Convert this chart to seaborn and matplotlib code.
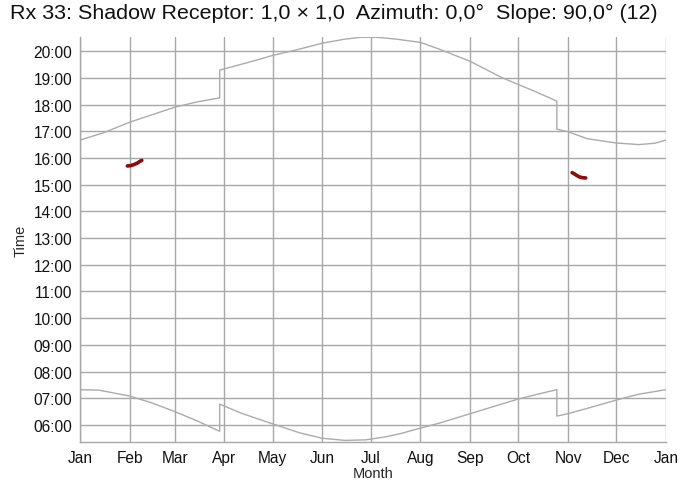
import matplotlib
matplotlib.use("Agg")
import matplotlib.pyplot as plt
from matplotlib.ticker import FixedLocator, FuncFormatter, MultipleLocator
import seaborn as sns

# month boundaries (day of year) and labels
month_starts = [0, 31, 59, 90, 120, 151, 181, 212, 243, 273, 304, 334, 365]
month_labels = ["Jan", "Feb", "Mar", "Apr", "May", "Jun", "Jul",
                "Aug", "Sep", "Oct", "Nov", "Dec", "Jan"]

# sunset curve (day of year, hour)
sunset_day = [0, 15, 31, 45, 59, 73, 87, 87, 100, 112, 120, 135, 151, 165, 175,
              185, 197, 212, 224, 243, 262, 273, 285, 297, 297, 304, 316, 334,
              348, 358, 365]
sunset_hour = [16.67, 16.95, 17.34, 17.62, 17.90, 18.10, 18.25, 19.29, 19.50,
               19.70, 19.84, 20.05, 20.30, 20.45, 20.52, 20.52, 20.45, 20.33,
               20.07, 19.62, 19.03, 18.75, 18.45, 18.13, 17.08, 16.98, 16.72,
               16.56, 16.50, 16.55, 16.67]

# sunrise curve
sunrise_day = [0, 12, 31, 45, 59, 73, 87, 87, 100, 112, 124, 137, 151, 165, 178,
               190, 200, 212, 224, 243, 262, 273, 285, 297, 297, 304, 316, 334,
               348, 365]
sunrise_hour = [7.32, 7.30, 7.08, 6.82, 6.50, 6.15, 5.76, 6.78, 6.45, 6.20, 5.96,
                5.70, 5.50, 5.42, 5.44, 5.55, 5.68, 5.88, 6.07, 6.42, 6.77, 6.97,
                7.15, 7.32, 6.33, 6.42, 6.62, 6.93, 7.15, 7.32]

# shadow periods
shadow_feb_day = [29.5, 31.5, 33.5, 35.5, 37.0, 38.5]
shadow_feb_hour = [15.70, 15.71, 15.75, 15.80, 15.86, 15.91]
shadow_nov_day = [306.5, 308.0, 309.5, 311.0, 313.0, 315.0]
shadow_nov_hour = [15.45, 15.40, 15.34, 15.29, 15.26, 15.25]

sns.set_style("white")
plt.rcParams["font.family"] = ["Liberation Sans", "DejaVu Sans"]

fig = plt.figure(figsize=(6.96, 4.81), dpi=100)
ax = fig.add_axes([80 / 696, 38 / 481, 586 / 696, 405 / 481])

grid_c = "#a8a8a8"
curve_c = "#ababab"
red = "#8c0a0a"

sns.lineplot(x=sunset_day, y=sunset_hour, sort=False, estimator=None,
             color=curve_c, linewidth=1.0, ax=ax)
sns.lineplot(x=sunrise_day, y=sunrise_hour, sort=False, estimator=None,
             color=curve_c, linewidth=1.0, ax=ax)
sns.lineplot(x=shadow_feb_day, y=shadow_feb_hour, sort=False, estimator=None,
             color=red, linewidth=2.6, ax=ax)
sns.lineplot(x=shadow_nov_day, y=shadow_nov_hour, sort=False, estimator=None,
             color=red, linewidth=2.6, ax=ax)

ax.set_xlim(0, 365)
ax.set_ylim(5.36, 20.53)

ax.xaxis.set_major_locator(FixedLocator(month_starts))
ax.set_xticklabels(month_labels)
minor_x = []
for i in range(12):
    a, b = month_starts[i], month_starts[i + 1]
    minor_x += [a + (b - a) * k / 4 for k in (1, 2, 3)]
ax.xaxis.set_minor_locator(FixedLocator(minor_x))

ax.yaxis.set_major_locator(MultipleLocator(1))
ax.yaxis.set_minor_locator(MultipleLocator(0.25))
ax.yaxis.set_major_formatter(FuncFormatter(lambda v, p: f"{int(round(v)):02d}:00"))

ax.grid(True, which="major", color=grid_c, linewidth=1.0)
ax.set_axisbelow(True)
for s in ["top", "right"]:
    ax.spines[s].set_visible(False)
for s in ["left", "bottom"]:
    ax.spines[s].set_color(grid_c)
    ax.spines[s].set_linewidth(1.0)

ax.tick_params(which="major", direction="out", length=3.5, width=1, color=grid_c,
               labelsize=11.2, labelcolor="#111111", pad=2)
ax.tick_params(which="minor", direction="out", length=2.5, width=1, color=grid_c)
ax.tick_params(axis="x", which="major", pad=2)

ax.set_xlabel("Month", fontsize=10.5)
ax.set_ylabel("Time", fontsize=10.5)
ax.xaxis.set_label_coords(0.5, -(467 - 443) / 405)
ax.yaxis.set_label_coords(-(80 - 28) / 586, 0.5)

fig.text(10 / 696, 1 - 13 / 481,
         "Rx 33: Shadow Receptor: 1,0 \u00d7 1,0  Azimuth: 0,0\u00b0  Slope: 90,0\u00b0 (12)",
         fontsize=15.45, ha="left", va="center", color="#111111")

fig.savefig("out.png", dpi=100)
